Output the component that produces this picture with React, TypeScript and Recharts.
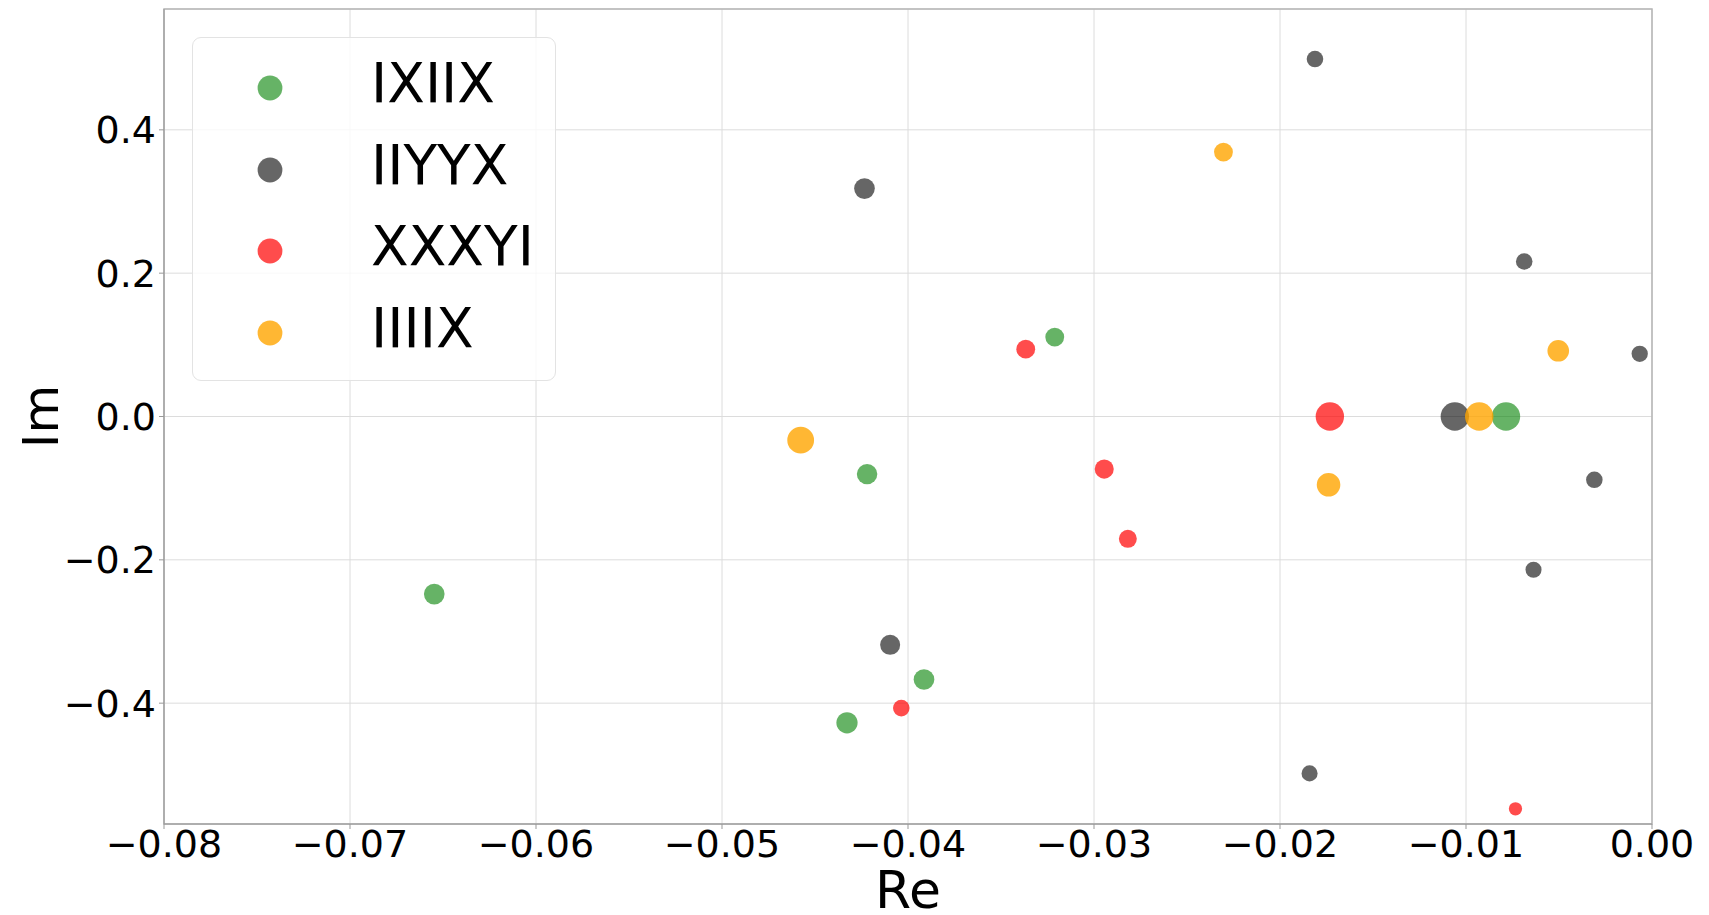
import React from 'react';
import {
  ScatterChart,
  Scatter,
  XAxis,
  YAxis,
  ZAxis,
  CartesianGrid,
  ReferenceArea,
  Label,
} from 'recharts';

// ---- data (re, im, relative weight of the marker) ----
const SERIES_NAMES = ['IXIIX', 'IIYYX', 'XXXYI', 'IIIIX'];

const ixiixPoints = [
  { re: -0.00785, im: 0.0, w: 100 },
  { re: -0.03211, im: 0.1108, w: 44 },
  { re: -0.0422, im: -0.0804, w: 52 },
  { re: -0.06547, im: -0.2478, w: 53 },
  { re: -0.03914, im: -0.367, w: 53 },
  { re: -0.04328, im: -0.4274, w: 56 },
];

const iiyyxPoints = [
  { re: -0.0106, im: 0.0, w: 100 },
  { re: -0.01812, im: 0.4987, w: 34 },
  { re: -0.04234, im: 0.318, w: 53 },
  { re: -0.00687, im: 0.2163, w: 34 },
  { re: -0.00066, im: 0.0875, w: 33 },
  { re: -0.0031, im: -0.0883, w: 34 },
  { re: -0.00637, im: -0.2139, w: 32 },
  { re: -0.04096, im: -0.3186, w: 50 },
  { re: -0.01841, im: -0.498, w: 32 },
];

const xxxyiPoints = [
  { re: -0.01732, im: 0.0, w: 100 },
  { re: -0.03367, im: 0.094, w: 44 },
  { re: -0.02945, im: -0.0734, w: 45 },
  { re: -0.02818, im: -0.1707, w: 40 },
  { re: -0.04036, im: -0.4069, w: 34 },
  { re: -0.00734, im: -0.5474, w: 22 },
];

const iiiixPoints = [
  { re: -0.00929, im: 0.0, w: 100 },
  { re: -0.02304, im: 0.369, w: 44 },
  { re: -0.00504, im: 0.0917, w: 58 },
  { re: -0.04577, im: -0.033, w: 89 },
  { re: -0.01739, im: -0.0953, w: 69 },
];

const X_TICKS = [-0.08, -0.07, -0.06, -0.05, -0.04, -0.03, -0.02, -0.01, 0.0];
const Y_TICKS = [-0.4, -0.2, 0.0, 0.2, 0.4];
const X_DOMAIN = [-0.08, 0.0];
const Y_DOMAIN = [-0.5686, 0.5686];

const COLORS = ['#008000', '#000000', '#ff0000', '#ffa500'];
const OPACITIES = [0.6, 0.6, 0.7, 0.8];
const SERIES_DATA = [ixiixPoints, iiyyxPoints, xxxyiPoints, iiiixPoints];

const FONT = '"DejaVu Sans", sans-serif';

const fmtX = (v: number) =>
  v < 0 ? '\u2212' + Math.abs(v).toFixed(2) : Math.abs(v).toFixed(2);
const fmtY = (v: number) =>
  v < -1e-9 ? '\u2212' + Math.abs(v).toFixed(1) : Math.abs(v).toFixed(1);

const LegendBox = () => (
  <div
    style={{
      position: 'absolute',
      left: 192,
      top: 37,
      boxSizing: 'border-box',
      width: 364,
      height: 344,
      border: '1.5px solid #e3e3e3',
      borderRadius: 9,
      background: 'rgba(255,255,255,0.8)',
      fontFamily: FONT,
    }}
  >
    {SERIES_NAMES.map((name, i) => (
      <div
        key={name}
        style={{
          position: 'absolute',
          left: 0,
          top: 50 + i * 81.7 - 40,
          height: 80,
          width: '100%',
        }}
      >
        <svg width={100} height={80} style={{ position: 'absolute', left: 27, top: 0 }}>
          <circle cx={50} cy={40} r={12.4} fill={COLORS[i]} fillOpacity={OPACITIES[i]} />
        </svg>
        <span
          style={{
            position: 'absolute',
            left: 178,
            top: -5,
            lineHeight: '80px',
            fontSize: 55,
            color: '#000',
            whiteSpace: 'nowrap',
          }}
        >
          {name}
        </span>
      </div>
    ))}
  </div>
);

export default function App() {
  return (
    <div style={{ position: 'absolute', left: 0, top: 0, width: 1709, height: 915, background: '#fff' }}>
      <ScatterChart
        width={1709}
        height={915}
        margin={{ top: 9, right: 57, left: 0, bottom: 0 }}
        style={{ fontFamily: FONT }}
      >
        <CartesianGrid stroke="#dcdcdc" strokeWidth={1} />
        <XAxis
          type="number"
          dataKey="re"
          domain={X_DOMAIN}
          ticks={X_TICKS}
          tickFormatter={fmtX}
          allowDataOverflow
          height={91}
          tickSize={5}
          tickMargin={1}
          axisLine={{ stroke: '#999' }}
          tickLine={{ stroke: '#999' }}
          tick={{ fill: '#000', fontSize: 38, fontFamily: FONT }}
        >
          <Label
            value="Re"
            position="insideBottom"
            offset={7}
            style={{ fontSize: 52, fill: '#000', fontFamily: FONT }}
          />
        </XAxis>
        <YAxis
          type="number"
          dataKey="im"
          domain={Y_DOMAIN}
          ticks={Y_TICKS}
          tickFormatter={fmtY}
          allowDataOverflow
          width={164}
          tickSize={5}
          tickMargin={3}
          axisLine={{ stroke: '#999' }}
          tickLine={{ stroke: '#999' }}
          tick={{ fill: '#000', fontSize: 38, fontFamily: FONT }}
        >
          <Label
            value="Im"
            angle={-90}
            position="insideLeft"
            offset={40}
            style={{ fontSize: 50, fill: '#000', fontFamily: FONT, textAnchor: 'middle' }}
          />
        </YAxis>
        <ZAxis type="number" dataKey="w" domain={[0, 100]} range={[0, 633]} />
        <ReferenceArea
          x1={X_DOMAIN[0]}
          x2={X_DOMAIN[1]}
          y1={Y_DOMAIN[0]}
          y2={Y_DOMAIN[1]}
          fill="none"
          stroke="#b5b5b5"
          strokeWidth={1.5}
          ifOverflow="visible"
        />
        {SERIES_DATA.map((data, i) => (
          <Scatter
            key={SERIES_NAMES[i]}
            name={SERIES_NAMES[i]}
            data={data}
            fill={COLORS[i]}
            fillOpacity={OPACITIES[i]}
            isAnimationActive={false}
          />
        ))}
      </ScatterChart>
      <LegendBox />
    </div>
  );
}
